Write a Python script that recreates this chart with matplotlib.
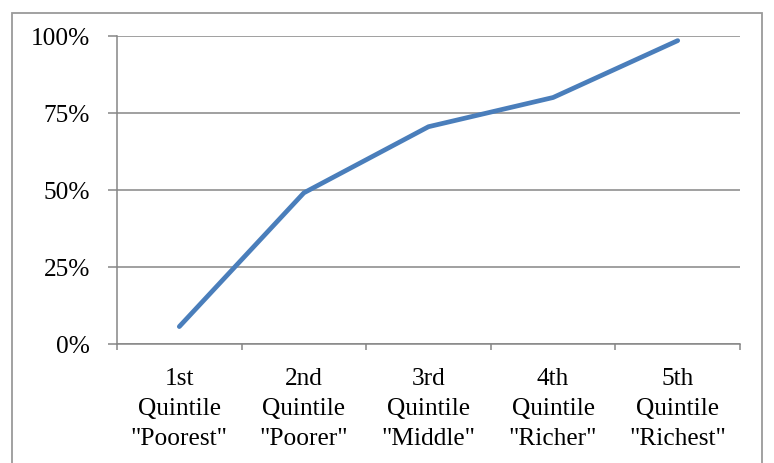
import matplotlib
matplotlib.use("Agg")
import matplotlib.pyplot as plt
from matplotlib.patches import Rectangle
from matplotlib.ticker import FixedLocator, NullFormatter

categories = ['1st\nQuintile\n"Poorest"', '2nd\nQuintile\n"Poorer"', '3rd\nQuintile\n"Middle"',
              '4th\nQuintile\n"Richer"', '5th\nQuintile\n"Richest"']
values = [5.5, 49.0, 70.5, 80.0, 98.5]
y_ticks = [0, 25, 50, 75, 100]

plt.rcParams['font.family'] = ['Liberation Serif', 'DejaVu Serif']
FS = 18.3
GRID = '#868686'
PX = 72 / 100  # points per pixel at 100 dpi

fig = plt.figure(figsize=(7.74, 4.64), dpi=100)
ax = fig.add_axes([117 / 774, 1 - 344.5 / 464, (740 - 117) / 774, (344.5 - 37) / 464])

x = list(range(len(categories)))
ax.plot(x, values, color='#4A7EBB', lw=3.4, solid_capstyle='round', solid_joinstyle='round', zorder=3)

ax.set_xlim(-0.5, len(categories) - 0.5)
ax.set_ylim(0, 100)

# category boundaries carry the tick marks; labels are placed under the centres
ax.xaxis.set_major_locator(FixedLocator([i - 0.5 for i in range(len(categories) + 1)]))
ax.xaxis.set_major_formatter(NullFormatter())
ax.tick_params(axis='x', which='major', length=6 * PX, width=1.1, color=GRID, direction='out')
for xi, cat in zip(x, categories):
    ax.annotate(cat, xy=(xi, 0), xycoords=('data', 'axes fraction'),
                xytext=(0, -24 * PX), textcoords='offset points',
                ha='center', va='top', fontsize=FS, linespacing=1.45, annotation_clip=False)

ax.set_yticks(y_ticks)
ax.set_yticklabels([f'{v}%' for v in y_ticks])
ax.tick_params(axis='y', length=9 * PX, width=1.1, color=GRID, direction='out', pad=18 * PX,
               labelsize=FS, labelcolor='black')

ax.grid(axis='y', color=GRID, lw=1.1)
ax.set_axisbelow(True)
for side in ('top', 'right'):
    ax.spines[side].set_visible(False)
for side in ('left', 'bottom'):
    ax.spines[side].set_color(GRID)
    ax.spines[side].set_linewidth(1.1)

# chart-area frame
fig.patches.append(Rectangle((12.5 / 774, -0.05), (762 - 12.5) / 774, 1.05 - 13.5 / 464,
                             transform=fig.transFigure, fill=False, edgecolor='#9a9a9a',
                             lw=1.3, clip_on=False))

fig.savefig('out.png', dpi=100)
